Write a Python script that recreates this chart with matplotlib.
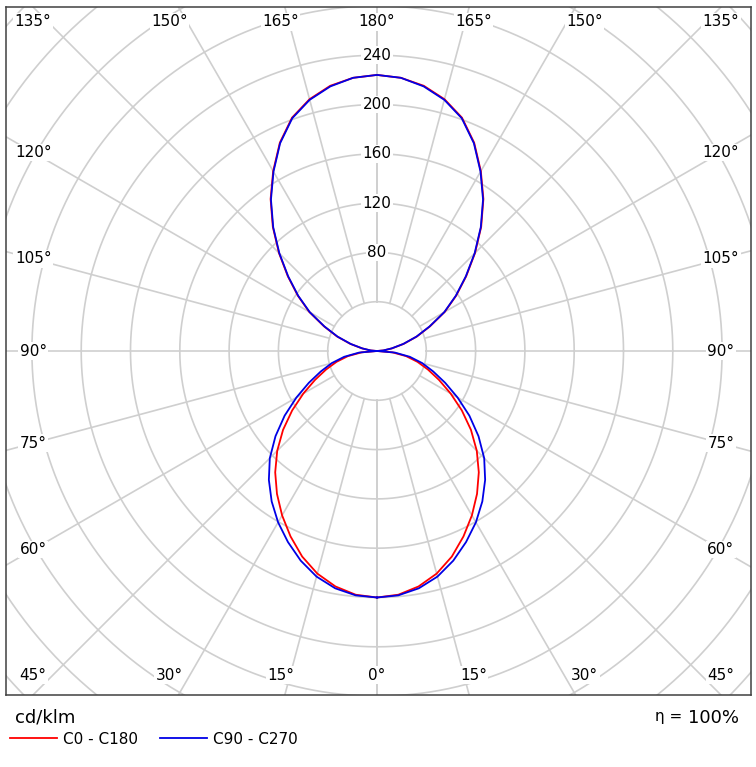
# photometric polar diagram, cd/klm, C0-C180 and C90-C270 planes

import numpy as np
import matplotlib
matplotlib.use('Agg')
import matplotlib.pyplot as plt

# gamma angle from nadir (deg) and intensities
gamma = np.arange(0, 185, 5)
c0_c180 = [200, 198.5, 194, 187, 177.5, 166, 154, 141.5, 128.5, 114.5, 99.5, 84, 69, 55.5, 44, 34, 24, 12.5, 0,
           5.5, 12.5, 22.5, 34.5, 47.5, 63.5, 78.5, 94.5, 112.5, 131.5, 150.5, 168.5, 186.5, 201.5, 211.5, 218.5, 222.5, 224]
c90_c270 = [200, 199, 195.5, 189.5, 181, 171, 160.5, 149, 136.5, 123, 107.5, 91.5, 75.5, 61, 48.5, 38, 27, 14.5, 0,
            5, 12, 22, 34, 47, 63, 78, 94, 112, 131, 150, 168, 186, 201, 211, 218, 222.5, 224]

rings = [40, 80, 120, 160, 200, 240, 280, 320, 360, 400]
ring_labels = [80, 120, 160, 200, 240]
spokes = np.arange(0, 181, 15)

# pixel geometry of the reference (centre at 377,351, 1.2325 px per cd/klm)
W, H = 756, 767
px = 1.2325
cx, cy = 377, 351
box = (6, 7, 751, 695)   # left, top, right, bottom

fig = plt.figure(figsize=(W / 100, H / 100), dpi=100)
ax = fig.add_axes([box[0] / W, 1 - box[3] / H, (box[2] - box[0]) / W, (box[3] - box[1]) / H])
ax.set_xlim(-(cx - box[0]) / px, (box[2] - cx) / px)
ax.set_ylim(-(box[3] - cy) / px, (cy - box[1]) / px)
ax.set_xticks([])
ax.set_yticks([])
for s in ax.spines.values():
    s.set_color('#404040')
    s.set_linewidth(1.1)

grid_kw = dict(color='#cfcfcf', lw=1.2, zorder=1)

# rings
t = np.linspace(0, 2 * np.pi, 721)
for r in rings:
    ax.plot(r * np.cos(t), r * np.sin(t), **grid_kw)

# spokes, starting at the inner ring
for g in spokes:
    g_r = np.radians(g)
    for side in (-1, 1):
        xs = side * np.sin(g_r) * np.array([40, 600])
        ys = -np.cos(g_r) * np.array([40, 600])
        ax.plot(xs, ys, **grid_kw)

# curves, mirrored on both halves
def to_xy(vals):
    g = np.radians(gamma)
    r = np.asarray(vals, dtype=float)
    x = np.concatenate([-r * np.sin(g), (r * np.sin(g))[::-1]])
    y = np.concatenate([-r * np.cos(g), (-r * np.cos(g))[::-1]])
    return x, y

x0, y0 = to_xy(c0_c180)
x9, y9 = to_xy(c90_c270)
l0, = ax.plot(x0, y0, color='#ff0000', lw=1.3, zorder=4, label='C0 - C180',
              solid_joinstyle='round')
l9, = ax.plot(x9, y9, color='#0000e6', lw=1.3, zorder=5, label='C90 - C270',
              solid_joinstyle='round')

lab_kw = dict(fontsize=11, ha='center', va='center', color='black', zorder=3,
              bbox=dict(facecolor='white', edgecolor='none', pad=1.0))

# intensity labels up the 180 spoke
for r in ring_labels:
    ax.text(0, r, str(r), **lab_kw)

# angle labels round the frame
y_top, y_bot, x_side = 267, -263, 279
for g in spokes:
    g_r = np.radians(g)
    for side in (-1, 1):
        if g == 0 and side == -1 or g == 180 and side == -1:
            continue
        if g <= 30 or g >= 150:
            x = side * 292 * abs(np.tan(g_r))
            y = y_bot if g <= 30 else y_top
        else:
            x = side * x_side
            y = -x_side * np.cos(g_r) / np.sin(g_r)
            y = min(max(y, y_bot), y_top)
        ax.text(x, y, '%d°' % g, **lab_kw)

# footer
fig.text(15 / W, 1 - 718 / H, 'cd/klm', fontsize=13, ha='left', va='center')
fig.text(739 / W, 1 - 718 / H, '100%', fontsize=13, ha='right', va='center')
fig.text(682 / W, 1 - 716 / H, 'η =', fontsize=11, ha='right', va='center')
fig.legend(handles=[l0, l9], loc='center left', bbox_to_anchor=(10 / W, 1 - 739 / H),
           ncol=2, frameon=False, fontsize=11, handlelength=3.1, handletextpad=0.4,
           columnspacing=1.4, borderpad=0, borderaxespad=0)

fig.savefig('out.png', dpi=100)
